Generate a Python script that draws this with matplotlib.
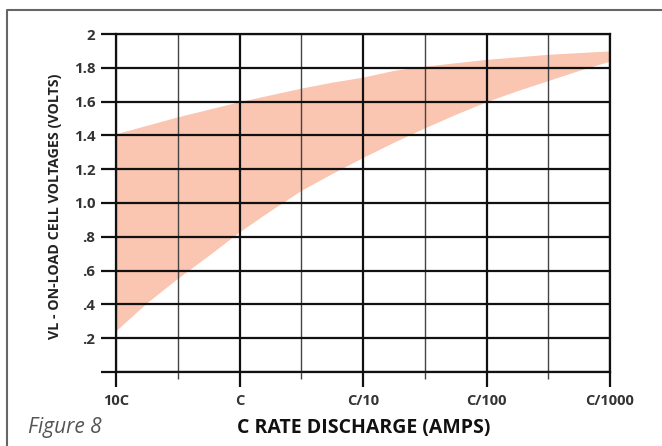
import numpy as np
import matplotlib
matplotlib.use('Agg')
import matplotlib.pyplot as plt
from matplotlib.lines import Line2D
from matplotlib.ticker import MultipleLocator

# x positions on the rate axis: 0 = 10C, 1 = C, 2 = C/10, 3 = C/100, 4 = C/1000
rate_pos = [0, 0.25, 0.5, 0.75, 1.0, 1.25, 1.5, 1.75, 2.0, 2.25, 2.5, 2.75, 3.0, 3.25, 3.5, 3.75, 4.0]
v_upper = [1.41, 1.46, 1.51, 1.555, 1.60, 1.64, 1.68, 1.715, 1.745, 1.785, 1.81, 1.83, 1.85, 1.865, 1.88, 1.89, 1.90]
v_lower = [0.245, 0.41, 0.555, 0.69, 0.83, 0.955, 1.075, 1.175, 1.27, 1.36, 1.445, 1.525, 1.60, 1.665, 1.725, 1.785, 1.84]

x_labels = ['10C', 'C', 'C/10', 'C/100', 'C/1000']
y_ticks = [0, 0.2, 0.4, 0.6, 0.8, 1.0, 1.2, 1.4, 1.6, 1.8, 2.0]
y_labels = ['', '.2', '.4', '.6', '.8', '1.0', '1.2', '1.4', '1.6', '1.8', '2']

plt.rcParams['font.family'] = ['Open Sans', 'DejaVu Sans']
W, H = 662, 446
fig = plt.figure(figsize=(W / 100, H / 100), dpi=100)
ax = fig.add_axes([116 / W, 1 - 372 / H, (610 - 116) / W, (372 - 34) / H])

ax.fill_between(rate_pos, v_lower, v_upper, color='#FAC5B1', lw=0, zorder=1)
ax.set_xlim(0, 4)
ax.set_ylim(0, 2)

ax.set_xticks(range(len(x_labels)))
ax.set_xticklabels(x_labels)
ax.xaxis.set_minor_locator(MultipleLocator(0.5))
ax.set_yticks(y_ticks)
ax.set_yticklabels(y_labels)

ax.set_axisbelow(False)
ax.grid(which='major', color='#111111', lw=1.6)
ax.grid(which='minor', axis='x', color='#444444', lw=1.0)
for s in ax.spines.values():
    s.set_color('#111111'); s.set_linewidth(1.6)

ax.tick_params(axis='y', which='major', length=10.8, width=1.6, color='#111111', pad=4,
               labelsize=10.8, labelcolor='#333333')
ax.tick_params(axis='x', which='major', length=10.8, width=1.6, color='#111111', pad=5,
               labelsize=10.5, labelcolor='#333333')
ax.tick_params(axis='x', which='minor', length=5, width=1.0, color='#444444')
for t in ax.get_xticklabels() + ax.get_yticklabels():
    t.set_fontweight('bold')

fig.text(55 / W, 1 - 206 / H, 'VL - ON-LOAD CELL VOLTAGES (VOLTS)', rotation=90,
         ha='center', va='center', fontsize=10.3, fontweight='bold', color='#222222')
fig.text(364 / W, 1 - 428 / H, 'C RATE DISCHARGE (AMPS)', ha='center', va='center',
         fontsize=14, fontweight='bold', color='#111111')
fig.text(28 / W, 1 - 428 / H, 'Figure 8', ha='left', va='center', fontsize=15,
         style='italic', color='#555555')

# outer frame (left and top edges only visible)
fig.add_artist(Line2D([7 / W, 7 / W, 1], [0, 1 - 10 / H, 1 - 10 / H],
                      transform=fig.transFigure, color='#666666', lw=1.5))

fig.savefig('out.png', dpi=100)
